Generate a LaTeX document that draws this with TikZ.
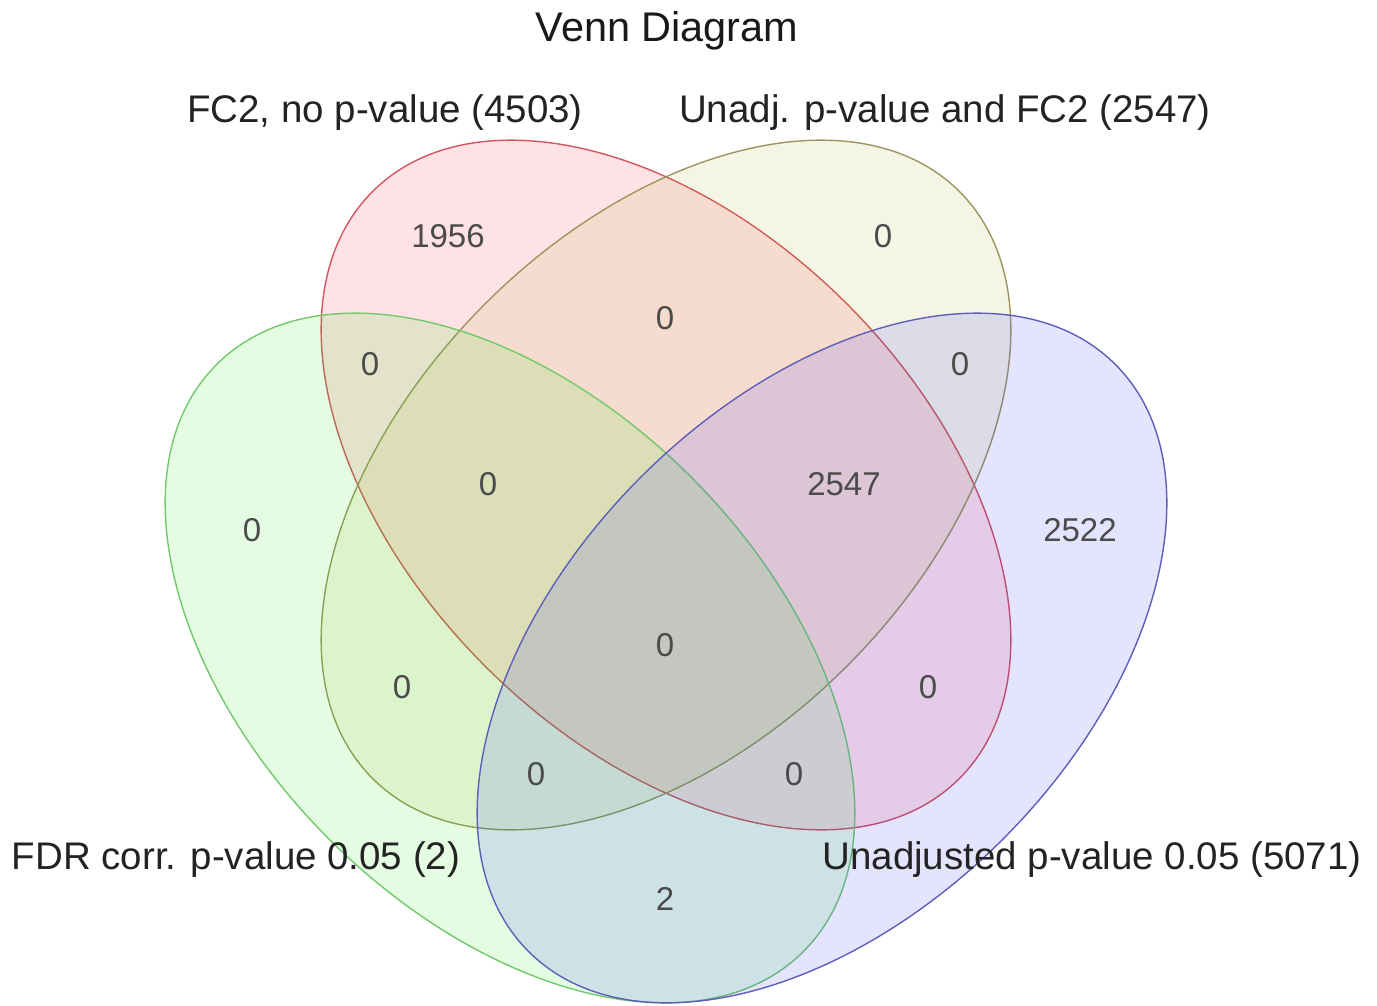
\documentclass[tikz,border=0pt]{standalone}
\usepackage{fontspec}
\setmainfont{Liberation Sans}
\usepackage{tikz}
\usetikzlibrary{positioning}

\definecolor{fcred}{RGB}{255,20,40}
\definecolor{fcredline}{RGB}{210,85,95}
\definecolor{unadjolive}{RGB}{175,175,40}
\definecolor{unadjoliveline}{RGB}{155,150,95}
\definecolor{fdrgreen}{RGB}{30,235,20}
\definecolor{fdrgreenline}{RGB}{115,200,110}
\definecolor{pvalblue}{RGB}{35,35,255}
\definecolor{pvalblueline}{RGB}{95,95,185}
\definecolor{countgray}{RGB}{75,75,75}
\definecolor{labelgray}{RGB}{35,35,35}

\begin{document}
\begin{tikzpicture}[x=0.02cm, y=-0.02cm,
	vset/.style={line width=0.8pt, fill opacity=0.12},
	count/.style={text=countgray, font=\fontsize{18.8}{21}\selectfont},
	setlabel/.style={text=labelgray, font=\fontsize{21.9}{24}\selectfont}]
	\useasboundingbox (0,0) rectangle (1377,1005);

	% the four sets
	\filldraw[vset, draw=fcredline, fill=fcred, rotate around={-45:(666,485)}] (666,485) ellipse (415 and 256);
	\filldraw[vset, draw=unadjoliveline, fill=unadjolive, rotate around={45:(666,485)}] (666,485) ellipse (415 and 256);
	\filldraw[vset, draw=fdrgreenline, fill=fdrgreen, rotate around={-45:(510,658)}] (510,658) ellipse (415 and 256);
	\filldraw[vset, draw=pvalblueline, fill=pvalblue, rotate around={45:(822,658)}] (822,658) ellipse (415 and 256);

	\node[font=\fontsize{23.6}{26}\selectfont, text=black!90] (title) at (667,31) {Venn Diagram};

	\node[setlabel] (fclabel) at (385,113) {FC2, no p-value (4503)};
	\node[setlabel] (unadjlabel) at (945,113) {Unadj. p-value and FC2 (2547)};
	\node[setlabel] (fdrlabel) at (236,860) {FDR corr. p-value 0.05 (2)};
	\node[setlabel] (pvallabel) at (1092,860) {Unadjusted p-value 0.05 (5071)};

	% region counts
	\node[count] (fconly) at (448,236) {1956};
	\node[count] (unadjonly) at (883,236) {0};
	\node[count] (fcunadj) at (665,318) {0};
	\node[count] (fcfdr) at (370,364) {0};
	\node[count] (unadjpval) at (960,364) {0};
	\node[count] (fdronly) at (252,530) {0};
	\node[count] (fcunadjfdr) at (488,484) {0};
	\node[count] (fcunadjpval) at (844,484) {2547};
	\node[count] (pvalonly) at (1080,530) {2522};
	\node[count] (allfour) at (665,645) {0};
	\node[count] (unadjfdr) at (402,687) {0};
	\node[count] (fcpval) at (928,687) {0};
	\node[count] (unadjfdrpval) at (536,774) {0};
	\node[count] (fcfdrpval) at (794,774) {0};
	\node[count] (fdrpval) at (665,899) {2};
\end{tikzpicture}
\end{document}
